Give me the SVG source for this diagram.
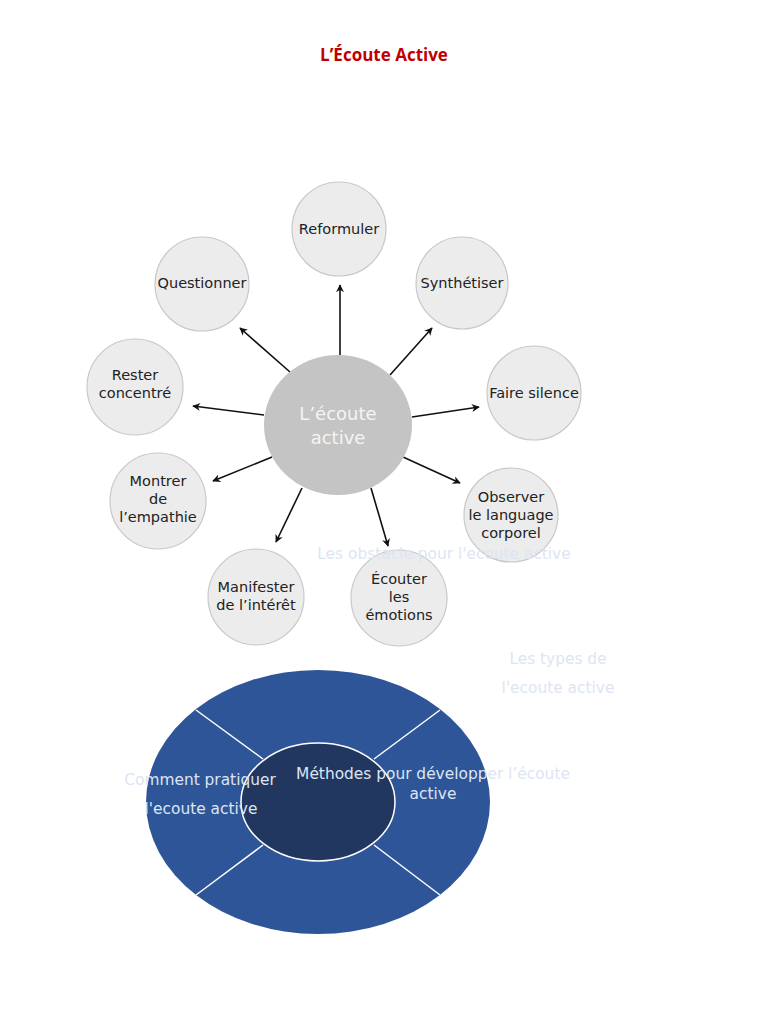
<svg xmlns="http://www.w3.org/2000/svg" width="768" height="1024" viewBox="0 0 768 1024">
<style>
.n{fill:#ececec;stroke:#c8c8c8;stroke-width:1.2}
.t{font-family:"DejaVu Sans",Verdana,sans-serif;font-size:14.5px;fill:#222;text-anchor:middle}
.c{stroke:#111;stroke-width:1.6;fill:none;marker-end:url(#a)}
.f{font-family:"DejaVu Sans",Verdana,sans-serif;font-size:15.4px;fill:#dde5f3}
.w{stroke:#fff;stroke-width:1.5}
</style>
<defs>
<marker id="a" viewBox="0 0 10 10" refX="9" refY="5" markerWidth="5" markerHeight="5" orient="auto-start-reverse"><path d="M0,0 L10,5 L0,10 L3,5 Z" fill="#111"/></marker>
</defs>
<rect width="768" height="1024" fill="#fff"/>
<text x="384" y="61" text-anchor="middle" font-family="'Open Sans','Liberation Sans',sans-serif" font-weight="bold" font-size="17" fill="#c00000">L’Écoute Active</text>

<g id="connectors">
<line class="c" x1="340" y1="355" x2="340" y2="285"/>
<line class="c" x1="390" y1="375" x2="432" y2="328"/>
<line class="c" x1="412" y1="417" x2="479" y2="407"/>
<line class="c" x1="403" y1="457" x2="460" y2="483"/>
<line class="c" x1="371" y1="488" x2="388" y2="546"/>
<line class="c" x1="302" y1="488" x2="276" y2="542"/>
<line class="c" x1="272" y1="457" x2="213" y2="481"/>
<line class="c" x1="264" y1="415" x2="193" y2="406"/>
<line class="c" x1="290" y1="372" x2="240" y2="328"/>
</g>

<g id="center"><ellipse cx="338" cy="425" rx="74" ry="70" fill="#c4c4c4"/>
<text x="338" y="420" text-anchor="middle" font-family="'DejaVu Sans',Verdana,sans-serif" font-size="18" fill="#f4f4f4">L’écoute</text>
<text x="338" y="444" text-anchor="middle" font-family="'DejaVu Sans',Verdana,sans-serif" font-size="18" fill="#f4f4f4">active</text></g>

<g id="reformuler"><circle class="n" cx="339" cy="229" r="47"/><text class="t" x="339" y="234">Reformuler</text></g>
<g id="synthetiser"><circle class="n" cx="462" cy="283" r="46"/><text class="t" x="462" y="288">Synthétiser</text></g>
<g id="faire-silence"><circle class="n" cx="534" cy="393" r="47"/><text class="t" x="534" y="398">Faire silence</text></g>
<g id="observer"><circle class="n" cx="511" cy="515" r="47"/><text class="t" x="511" y="502">Observer</text><text class="t" x="511" y="520">le language</text><text class="t" x="511" y="538">corporel</text></g>
<g id="ecouter"><circle class="n" cx="399" cy="598" r="48"/><text class="t" x="399" y="584">Écouter</text><text class="t" x="399" y="602">les</text><text class="t" x="399" y="620">émotions</text></g>
<g id="manifester"><circle class="n" cx="256" cy="597" r="48"/><text class="t" x="256" y="592">Manifester</text><text class="t" x="256" y="610">de l’intérêt</text></g>
<g id="montrer"><circle class="n" cx="158" cy="501" r="48"/><text class="t" x="158" y="486">Montrer</text><text class="t" x="158" y="504">de</text><text class="t" x="158" y="522">l’empathie</text></g>
<g id="rester"><circle class="n" cx="135" cy="387" r="48"/><text class="t" x="135" y="380">Rester</text><text class="t" x="135" y="398">concentré</text></g>
<g id="questionner"><circle class="n" cx="202" cy="284" r="47"/><text class="t" x="202" y="288">Questionner</text></g>

<text class="f" x="444" y="559" text-anchor="middle">Les obstacle pour l'ecoute active</text>

<g id="ring">
<ellipse cx="318" cy="802" rx="172" ry="132" fill="#2e5597"/>
<line class="w" x1="263" y1="759" x2="196" y2="710"/>
<line class="w" x1="374" y1="759" x2="440" y2="710"/>
<line class="w" x1="263" y1="845" x2="196" y2="895"/>
<line class="w" x1="374" y1="845" x2="440" y2="895"/>
<ellipse cx="318" cy="802" rx="77" ry="59" fill="#21375f" stroke="#fff" stroke-width="1.5"/>
</g>
<text class="f" x="558" y="664" text-anchor="middle">Les types de</text>
<text class="f" x="558" y="693" text-anchor="middle">l'ecoute active</text>
<text class="f" x="200" y="785" text-anchor="middle" fill="#c9d3e6">Comment pratiquer</text>
<text class="f" x="201" y="814" text-anchor="middle" fill="#c9d3e6">l'ecoute active</text>
<text class="f" x="433" y="779" text-anchor="middle" fill="#d2d8e4">Méthodes pour développer l’écoute</text>
<text class="f" x="433" y="799" text-anchor="middle" fill="#d2d8e4">active</text>
</svg>
